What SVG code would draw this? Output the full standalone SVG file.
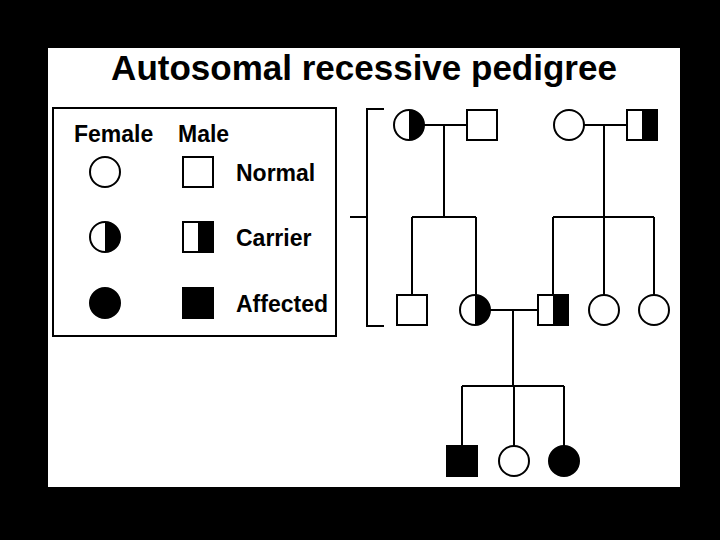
<svg xmlns="http://www.w3.org/2000/svg" width="720" height="540" viewBox="0 0 720 540">
<style>
.t{font-family:"Liberation Sans",Arial,sans-serif;font-weight:bold;fill:#000}
.ln{stroke:#000;stroke-width:2;fill:none}
.w{fill:#fff;stroke:#000;stroke-width:2}
.b{fill:#000;stroke:#000;stroke-width:2}
.h{fill:#000;stroke:none}
</style>
<defs>
<g id="fN"><circle r="15" class="w"/></g>
<g id="fC"><circle r="15" fill="#fff"/><path d="M0,-15 A15,15 0 0 1 0,15 Z" class="h"/><circle r="15" class="ln"/></g>
<g id="fA"><circle r="15" class="b"/></g>
<g id="mN"><rect x="-15" y="-15" width="30" height="30" class="w"/></g>
<g id="mC"><rect x="-15" y="-15" width="30" height="30" fill="#fff"/><rect x="0" y="-15" width="15" height="30" class="h"/><rect x="-15" y="-15" width="30" height="30" class="ln"/></g>
<g id="mA"><rect x="-15" y="-15" width="30" height="30" class="b"/></g>
</defs>
<rect x="0" y="0" width="720" height="540" fill="#000"/>
<rect x="48" y="48" width="632" height="439" fill="#fff"/>
<text class="t" x="364" y="80" font-size="35" text-anchor="middle">Autosomal recessive pedigree</text>

<g id="legend">
<rect x="53" y="108" width="283" height="228" class="ln"/>
<text class="t" x="74" y="142" font-size="23">Female</text>
<text class="t" x="178" y="142" font-size="23">Male</text>
<use href="#fN" x="105" y="172"/>
<use href="#mN" x="198" y="172"/>
<text class="t" x="236" y="181" font-size="23">Normal</text>
<use href="#fC" x="105" y="237"/>
<use href="#mC" x="198" y="237"/>
<text class="t" x="236" y="246" font-size="23">Carrier</text>
<use href="#fA" x="105" y="303"/>
<use href="#mA" x="198" y="303"/>
<text class="t" x="236" y="312" font-size="23">Affected</text>
</g>

<g id="connectors">
<path class="ln" d="M384,109 H367 V326 H384 M350,217 H367"/>
<path class="ln" d="M424,125 H467 M444,125 V217 M412,217 H476 M412,217 V295 M476,217 V295"/>
<path class="ln" d="M584,125 H627 M604,125 V217 M553,217 H654 M553,217 V295 M604,217 V295 M654,217 V295"/>
<path class="ln" d="M490,310 H538 M513,310 V386 M462,386 H564 M462,386 V446 M514,386 V446 M564,386 V446"/>
</g>

<g id="I-1"><use href="#fC" x="409" y="125"/></g>
<g id="I-2"><use href="#mN" x="482" y="125"/></g>
<g id="I-3"><use href="#fN" x="569" y="125"/></g>
<g id="I-4"><use href="#mC" x="642" y="125"/></g>
<g id="II-1"><use href="#mN" x="412" y="310"/></g>
<g id="II-2"><use href="#fC" x="475" y="310"/></g>
<g id="II-3"><use href="#mC" x="553" y="310"/></g>
<g id="II-4"><use href="#fN" x="604" y="310"/></g>
<g id="II-5"><use href="#fN" x="654" y="310"/></g>
<g id="III-1"><use href="#mA" x="462" y="461"/></g>
<g id="III-2"><use href="#fN" x="514" y="461"/></g>
<g id="III-3"><use href="#fA" x="564" y="461"/></g>
</svg>
